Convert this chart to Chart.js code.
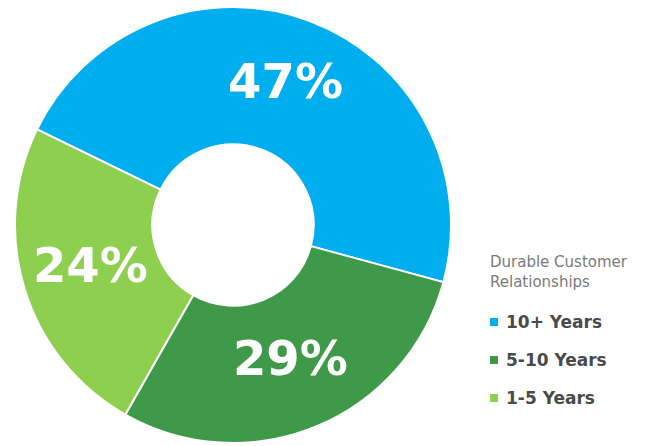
<!DOCTYPE html>
<html>
<head>
<meta charset="utf-8">
<script src="https://cdn.jsdelivr.net/npm/chart.js@4.4.1/dist/chart.umd.min.js"></script>
<style>
    html, body {
        margin: 0;
        padding: 0;
        background: #ffffff;
    }

    #wrap {
        position: relative;
        width: 657px;
        height: 446px;
        overflow: hidden;
    }

    #chartBox {
        position: absolute;
        left: 14px;
        top: 6px;
        width: 438px;
        height: 438px;
    }

    #legend {
        position: absolute;
        left: 490px;
        top: 252px;
        font-family: "DejaVu Sans", sans-serif;
    }

    #legend .title {
        color: #7a7a7a;
        font-size: 15px;
        line-height: 20px;
        margin-bottom: 11px;
    }

    #legend .item {
        display: flex;
        align-items: center;
        height: 38px;
        color: #4a4a4a;
        font-size: 17px;
        font-weight: bold;
    }

    #legend .box {
        width: 8px;
        height: 8px;
        margin-right: 8px;
    }
</style>
</head>
<body>
<div id="wrap">
    <div id="chartBox">
        <canvas id="ringChart"></canvas>
    </div>
    <div id="legend"></div>
</div>

<script>
// ================= DATA =================

const legendTitle = ["Durable Customer", "Relationships"];

const categories = ["10+ Years", "5-10 Years", "1-5 Years"];

const shares = [47, 29, 24];

const sliceColors = ["#00aeef", "#3e9a48", "#8ecf50"];


// ================= SLICE LABELS =================

const sliceLabels = {

    id: "sliceLabels",

    afterDatasetsDraw(chart) {

        const { ctx } = chart;

        const arcs = chart.getDatasetMeta(0).data;

        ctx.save();

        ctx.fillStyle = "#ffffff";
        ctx.font = "bold 48px 'DejaVu Sans'";
        ctx.textAlign = "center";
        ctx.textBaseline = "middle";

        arcs.forEach((arc, i) => {

            const pos = arc.tooltipPosition();

            ctx.fillText(shares[i] + "%", pos.x, pos.y);
        });

        ctx.restore();
    }
};


// ================= CHART =================

new Chart(
    document.getElementById("ringChart"),
    {
        type: "doughnut",

        data: {
            labels: categories,

            datasets: [
                {
                    data: shares,

                    backgroundColor: sliceColors,

                    borderColor: "#ffffff",

                    borderWidth: 2
                }
            ]
        },

        options: {
            responsive: true,

            maintainAspectRatio: false,

            animation: false,

            cutout: "37%",

            rotation: -64,

            plugins: {
                legend: { display: false },
                tooltip: { enabled: false }
            }
        },

        plugins: [
            sliceLabels
        ]
    }
);


// ================= LEGEND =================

const legend = document.getElementById("legend");

const title = document.createElement("div");
title.className = "title";
title.innerHTML = legendTitle.join("<br>");
legend.appendChild(title);

categories.forEach((name, i) => {

    const item = document.createElement("div");
    item.className = "item";

    const box = document.createElement("span");
    box.className = "box";
    box.style.background = sliceColors[i];

    const text = document.createElement("span");
    text.textContent = name;

    item.appendChild(box);
    item.appendChild(text);
    legend.appendChild(item);
});
</script>
</body>
</html>
